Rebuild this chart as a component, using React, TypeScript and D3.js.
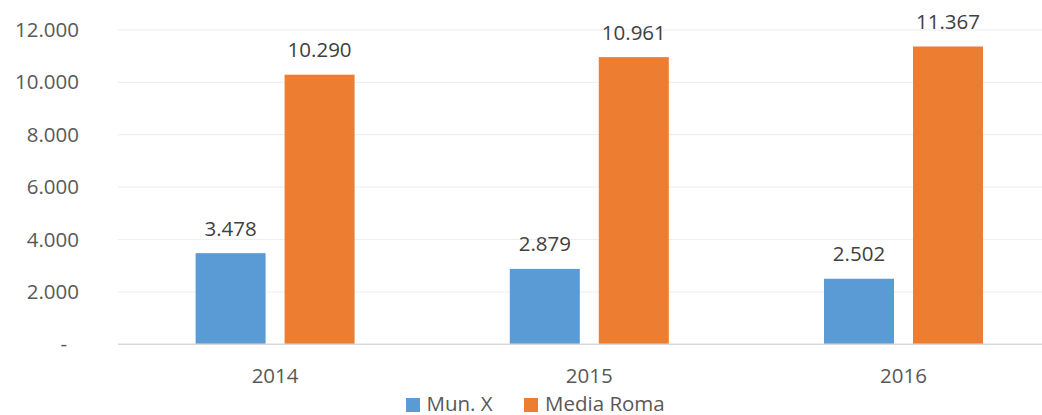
import React from "react";
import * as d3 from "d3";

const years = ["2014", "2015", "2016"];
const seriesNames = ["Mun. X", "Media Roma"];
const munX = [3478, 2879, 2502];
const mediaRoma = [10290, 10961, 11367];
const yTicks = [0, 2000, 4000, 6000, 8000, 10000, 12000];
const colors = ["#5B9BD5", "#ED7D31"];

const W = 1042;
const H = 415;
const FONT = "'Open Sans', 'Liberation Sans', sans-serif";
const FS = 20.5;

const fmt = (v: number) => (v === 0 ? "-" : d3.format(",")(v).replace(/,/g, "."));

export default function App() {
  const x = d3.scaleBand<string>().domain(years).range([118, 1060.6]);
  const xi = d3
    .scaleBand<string>()
    .domain(seriesNames)
    .range([0, x.bandwidth()])
    .paddingInner(19 / 89)
    .paddingOuter(0.872);
  const y = d3.scaleLinear().domain([0, 12000]).range([344.3, 29.9]);
  const values = [munX, mediaRoma];

  return (
    <svg
      width={W}
      height={H}
      style={{ position: "absolute", left: 0, top: 0, background: "#fff" }}
      fontFamily={FONT}
    >
      <rect x={0} y={0} width={W} height={H} fill="#fff" />
      {yTicks.map((t) =>
        t === 0 ? null : (
          <line key={"g" + t} x1={118} x2={W} y1={y(t)} y2={y(t)} stroke="#EFEFEF" strokeWidth={1.2} />
        )
      )}
      {yTicks.map((t) => (
        <text
          key={"t" + t}
          x={t === 0 ? 67 : 79}
          y={y(t)}
          dy="0.35em"
          textAnchor="end"
          fontSize={FS}
          fill="#595959"
        >
          {fmt(t)}
        </text>
      ))}
      {years.map((yr, i) =>
        seriesNames.map((s, j) => {
          const v = values[j][i];
          const bx = (x(yr) as number) + (xi(s) as number);
          return (
            <g key={yr + s}>
              <rect x={bx} y={y(v)} width={xi.bandwidth()} height={y(0) - y(v)} fill={colors[j]} />
              <text
                x={bx + xi.bandwidth() / 2}
                y={y(v) - 17.5}
                textAnchor="middle"
                fontSize={FS}
                fill="#404040"
              >
                {fmt(v)}
              </text>
            </g>
          );
        })
      )}
      <line x1={118} x2={W} y1={y(0)} y2={y(0)} stroke="#D9D9D9" strokeWidth={1.5} />
      {years.map((yr) => (
        <text
          key={"x" + yr}
          x={(x(yr) as number) + x.bandwidth() / 2}
          y={383.3}
          textAnchor="middle"
          fontSize={FS}
          fill="#595959"
        >
          {yr}
        </text>
      ))}
      <g>
        <rect x={406} y={398} width={14} height={14} fill={colors[0]} />
        <text x={426.5} y={410.5} fontSize={FS} fill="#595959">
          {seriesNames[0]}
        </text>
        <rect x={524} y={398} width={14} height={14} fill={colors[1]} />
        <text x={545} y={410.5} fontSize={FS} fill="#595959">
          {seriesNames[1]}
        </text>
      </g>
    </svg>
  );
}
